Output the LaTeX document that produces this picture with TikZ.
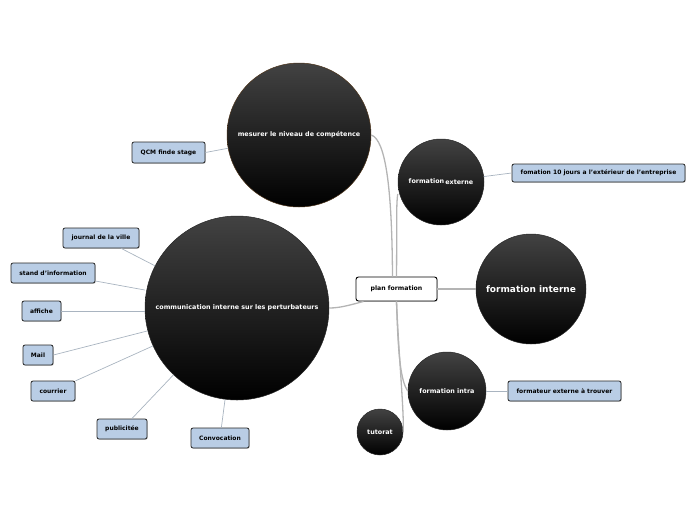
\documentclass[tikz,border=0pt]{standalone}
\usepackage{fontspec}
\setmainfont{DejaVu Sans}
\usetikzlibrary{shadows}
\definecolor{leafblue}{HTML}{B9CDE5}
\definecolor{linegray}{HTML}{B4B4B4}
\definecolor{leafline}{HTML}{A9B4C0}
\tikzset{
  x=1pt,y=-1pt,
  bubble/.style={circle,inner sep=0pt,top color=black!74,bottom color=black,draw=black!85,line width=0.5pt,text=white,font=\bfseries\fontsize{6.4}{7}\selectfont,align=center},
  leaf/.style={draw=black!85,line width=0.8pt,fill=leafblue,rounded corners=2pt,inner sep=0pt,font=\bfseries\fontsize{6}{7}\selectfont,drop shadow={shadow xshift=0.8pt,shadow yshift=-0.8pt,opacity=0.35}},
  rootbox/.style={draw=black,line width=0.9pt,fill=white,rounded corners=2.5pt,inner sep=0pt,minimum width=81pt,minimum height=24pt,font=\bfseries\fontsize{6.2}{7}\selectfont,drop shadow={shadow xshift=0.8pt,shadow yshift=-0.8pt,opacity=0.35}},
  mainline/.style={draw=linegray,line width=1.3pt},
  leafline/.style={draw=leafline,line width=0.7pt}
}
\begin{document}
\begin{tikzpicture}
\useasboundingbox (0,0) rectangle (696,520);
% circles
\node[bubble,minimum size=144pt,draw=brown!40!black] (mes) at (299,135) {mesurer le niveau de compétence};
\node[bubble,minimum size=184pt] (com) at (237,308) {communication interne sur les perturbateurs};
\node[bubble,minimum size=86pt] (ext) at (441,182) {formation\,\raisebox{-1pt}{externe}};
\node[bubble,minimum size=110pt,font=\bfseries\fontsize{9}{10}\selectfont] (int) at (531,289) {formation interne};
\node[bubble,minimum size=78pt] (intra) at (447,391) {formation intra};
\node[bubble,minimum size=46pt] (tut) at (380,432) {tutorat};
% root
\node[rootbox] (plan) at (396.5,289) {plan formation};
% main connectors
\draw[mainline] ([xshift=-4pt]plan.north) .. controls (392,190) and (386,140) .. (mes.east);
\draw[mainline] (plan.north) .. controls (397,230) and (396,205) .. ([yshift=-12pt]ext.west);
\draw[mainline] (plan.east) -- (int.west);
\draw[mainline] (plan.south) .. controls (398,350) and (400,380) .. (intra.west);
\draw[mainline] (plan.south) .. controls (399,360) and (404,410) .. (tut.east);
\draw[mainline] ([xshift=8pt]plan.south west) .. controls (350,305) and (340,308) .. (com.east);
% leaves
\node[leaf,minimum width=73pt,minimum height=21pt] (qcm) at (168.5,152.5) {QCM finde stage};
\node[leaf,minimum width=76pt,minimum height=20pt] (jour) at (101,238) {journal de la ville};
\node[leaf,minimum width=84pt,minimum height=20pt] (stand) at (53,273) {stand d'information};
\node[leaf,minimum width=39pt,minimum height=20pt] (aff) at (41.5,311) {affiche};
\node[leaf,minimum width=30pt,minimum height=20pt] (mail) at (38,355) {Mail};
\node[leaf,minimum width=44pt,minimum height=20pt] (cour) at (53,391) {courrier};
\node[leaf,minimum width=50pt,minimum height=20pt] (pub) at (122,429) {publicitée};
\node[leaf,minimum width=58pt,minimum height=20pt] (conv) at (220,438) {Convocation};
\node[leaf,minimum width=173pt,minimum height=18pt] (fom) at (598.5,173) {fomation 10 jours a l'extérieur de l'entreprise};
\node[leaf,minimum width=113pt,minimum height=20pt] (fmt) at (564.5,391) {formateur externe à trouver};
% leaf connectors
\draw[leafline] (qcm.east) -- (mes);
\draw[leafline] (jour) -- (com);
\draw[leafline] ([yshift=-8pt]stand.east) -- ([yshift=18pt]com.west);
\draw[leafline] (aff.east) -- ([yshift=-3pt]com.west);
\draw[leafline] (mail.east) -- (com);
\draw[leafline] (cour) -- (com);
\draw[leafline] (pub) -- (com);
\draw[leafline] (conv) -- (com);
\draw[leafline] (fom.west) -- (ext);
\draw[leafline] (fmt.west) -- (intra.east);
\end{tikzpicture}
\end{document}
